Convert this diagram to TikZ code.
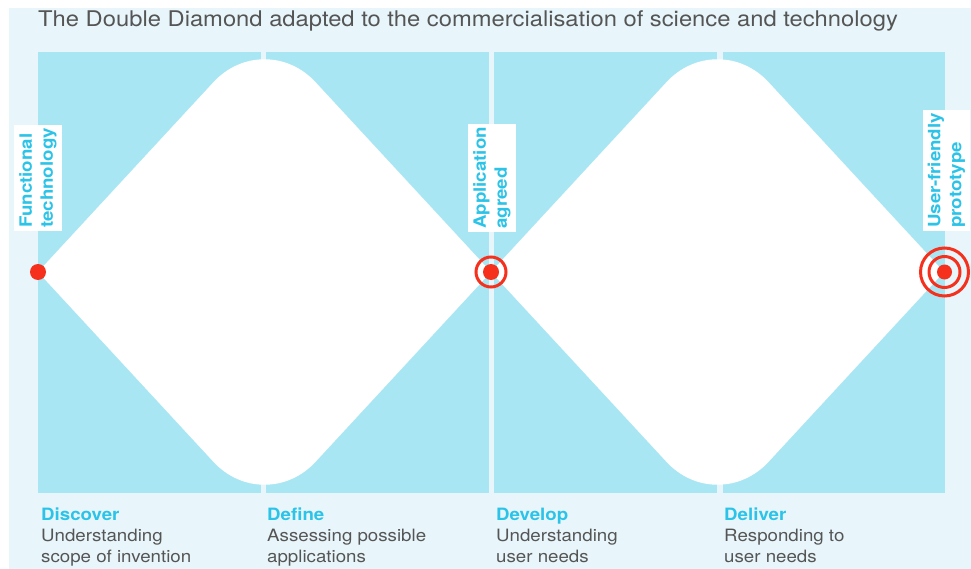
\documentclass[tikz,border=0pt]{standalone}
\usepackage{fontspec}
\setmainfont{TeX Gyre Heros}[FakeStretch=1.1]
\usetikzlibrary{positioning}

\definecolor{palebg}{HTML}{E8F6FB}
\definecolor{panelcyan}{HTML}{A9E6F4}
\definecolor{labelcyan}{HTML}{2BC3E8}
\definecolor{bodygray}{HTML}{555555}
\definecolor{markred}{HTML}{F5301C}

\begin{document}
\begin{tikzpicture}[
		x=1pt, y=-1pt,
		every node/.style={inner sep=0pt, font=\fontsize{17}{21}\selectfont},
		panel/.style={fill=panelcyan},
		milestone/.style={rotate=90, anchor=west, fill=white, align=left,
			inner xsep=3pt, inner ysep=5pt, text=labelcyan,
			font=\fontsize{17}{21}\bfseries\selectfont},
		phasehead/.style={anchor=base west, text=labelcyan, font=\fontsize{17}{21}\bfseries\selectfont},
		phasetext/.style={anchor=base west, align=left, text=bodygray},
		dot/.style={circle, fill=markred, minimum size=16pt},
		ring/.style={circle, draw=markred, line width=3pt}
	]
  \useasboundingbox (0,0) rectangle (971,569);
  \fill[palebg] (9,8) rectangle (971,569);

  % four phase panels
  \foreach \x in {38,266,494,722.5}
    \fill[panel] (\x,52) rectangle ++(222.5,440.5);

  % the two diamonds
  \foreach \cx in {264.5,717.5}
    \fill[white] (\cx-226.5,272) [rounded corners=75pt] -- (\cx,27) [sharp corners]
      -- (\cx+226.5,272) [rounded corners=75pt] -- (\cx,517) [sharp corners] -- cycle;

  \node (title) [anchor=base west, text=bodygray, font=\fontsize{21.6}{26}\selectfont] at (38,26.7)
    {The Double Diamond adapted to the commercialisation of science and technology};

  % milestones
  \node (functional) [milestone] at (38,231) {Functional\\technology};
  \node (agreed) [milestone] at (492,232) {Application\\agreed};
  \node (prototype) [milestone] at (946.5,231) {User-friendly\\prototype};

  \node (start) [dot] at (38,272) {};
  \node (mid) [dot] at (491,272) {};
  \node (mid_ring) [ring, minimum size=30pt] at (mid) {};
  \node (end) [dot, minimum size=15pt] at (944.5,272) {};
  \node (end_ring) [ring, minimum size=31pt] at (end) {};
  \node (end_outer) [ring, minimum size=48pt] at (end) {};

  % phases (text nodes sit on the baseline of their last line)
  \node (discover) [phasehead] at (41,520) {Discover};
  \node (discover_txt) [phasetext] at (41,562.7) {Understanding\\scope of invention};
  \node (define) [phasehead] at (267,520) {Define};
  \node (define_txt) [phasetext] at (267,562.7) {Assessing possible\\applications};
  \node (develop) [phasehead] at (496,520) {Develop};
  \node (develop_txt) [phasetext] at (496,562.7) {Understanding\\user needs};
  \node (deliver) [phasehead] at (724,520) {Deliver};
  \node (deliver_txt) [phasetext] at (724,562.7) {Responding to\\user needs};
\end{tikzpicture}
\end{document}
